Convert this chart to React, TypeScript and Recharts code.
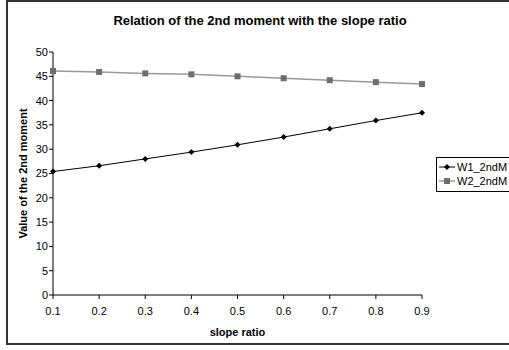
import React from 'react';
import { LineChart, Line, XAxis, YAxis, Legend, Label } from 'recharts';

const slopeRatios = [0.1, 0.2, 0.3, 0.4, 0.5, 0.6, 0.7, 0.8, 0.9];
const w1Values = [25.4, 26.6, 28.0, 29.4, 30.9, 32.5, 34.2, 35.9, 37.5];
const w2Values = [46.1, 45.9, 45.6, 45.4, 45.0, 44.6, 44.2, 43.8, 43.4];
const xTicks = [0.1, 0.2, 0.3, 0.4, 0.5, 0.6, 0.7, 0.8, 0.9];
const yTicks = [0, 5, 10, 15, 20, 25, 30, 35, 40, 45, 50];

const data = slopeRatios.map((x, i) => ({ x, W1_2ndM: w1Values[i], W2_2ndM: w2Values[i] }));

const FONT = '"Liberation Sans", Arial, sans-serif';

const Diamond = (props: any) => {
  const { cx, cy } = props;
  if (cx == null || cy == null) return null;
  const r = 3;
  return <polygon key={`d${cx}`} points={`${cx},${cy - r} ${cx + r},${cy} ${cx},${cy + r} ${cx - r},${cy}`} fill="#000" />;
};

const Square = (props: any) => {
  const { cx, cy } = props;
  if (cx == null || cy == null) return null;
  return <rect key={`s${cx}`} x={cx - 3} y={cy - 3} width={6} height={6} fill="#6e6e6e" />;
};

const LegendContent = () => (
  <div
    style={{
      border: '1px solid #000',
      width: 100,
      padding: '2px 0 3px 2px',
      fontFamily: FONT,
      fontSize: 11,
      background: '#fff',
      lineHeight: '14px',
      whiteSpace: 'nowrap',
    }}
  >
    <div style={{ display: 'flex', alignItems: 'center' }}>
      <svg width={16} height={10} style={{ marginRight: 2 }}>
        <line x1={0} y1={5} x2={16} y2={5} stroke="#000" strokeWidth={1} />
        <polygon points="8,2 11,5 8,8 5,5" fill="#000" />
      </svg>
      <span>W1_2ndM</span>
    </div>
    <div style={{ display: 'flex', alignItems: 'center' }}>
      <svg width={16} height={10} style={{ marginRight: 2 }}>
        <line x1={0} y1={5} x2={16} y2={5} stroke="#999" strokeWidth={1.5} />
        <rect x={5} y={2} width={6} height={6} fill="#6e6e6e" />
      </svg>
      <span>W2_2ndM</span>
    </div>
  </div>
);

export default function App() {
  return (
    <div style={{ position: 'absolute', left: 0, top: 0, width: 509, height: 350, background: '#fff', overflow: 'hidden' }}>
      <div
        style={{
          position: 'absolute',
          left: 6,
          top: 0,
          width: 520,
          height: 345,
          border: '2px solid #333',
          boxSizing: 'border-box',
        }}
      />
      <div
        style={{
          position: 'absolute',
          left: 0,
          width: 520,
          top: 13,
          textAlign: 'center',
          fontFamily: FONT,
          fontWeight: 'bold',
          fontSize: 13,
        }}
      >
        Relation of the 2nd moment with the slope ratio
      </div>
      <div style={{ position: 'absolute', left: 0, top: 0 }}>
        <LineChart width={509} height={350} data={data} margin={{ top: 52, right: 87, bottom: 25, left: 23 }}>
          <XAxis
            dataKey="x"
            type="number"
            domain={[0.1, 0.9]}
            ticks={xTicks}
            tickFormatter={(v: number) => v.toFixed(1)}
            axisLine={{ stroke: '#000' }}
            tickLine={{ stroke: '#000' }}
            tickSize={4}
            tickMargin={8}
            tick={{ fill: '#000', fontSize: 11, fontFamily: FONT }}
            height={30}
          >
            <Label
              value="slope ratio"
              position="bottom"
              offset={3}
              style={{ fontFamily: FONT, fontSize: 11, fontWeight: 'bold', fill: '#000' }}
            />
          </XAxis>
          <YAxis
            type="number"
            domain={[0, 50]}
            ticks={yTicks}
            interval={0}
            axisLine={{ stroke: '#000' }}
            tickLine={{ stroke: '#000' }}
            tickSize={4}
            tickMargin={1}
            tick={{ fill: '#000', fontSize: 11, fontFamily: FONT }}
            width={30}
          >
            <Label
              value="Value of the 2nd moment"
              angle={-90}
              position="insideLeft"
              offset={0}
              style={{ textAnchor: 'middle', fontFamily: FONT, fontSize: 11, fontWeight: 'bold', fill: '#000' }}
            />
          </YAxis>
          <Legend
            layout="vertical"
            align="center"
            verticalAlign="middle"
            content={LegendContent}
            wrapperStyle={{ left: 436, top: 157, width: 110, right: 'auto', bottom: 'auto' }}
          />
          <Line
            type="linear"
            dataKey="W1_2ndM"
            stroke="#000"
            strokeWidth={1}
            dot={Diamond}
            activeDot={false}
            isAnimationActive={false}
          />
          <Line
            type="linear"
            dataKey="W2_2ndM"
            stroke="#999"
            strokeWidth={1.5}
            dot={Square}
            activeDot={false}
            isAnimationActive={false}
          />
        </LineChart>
      </div>
    </div>
  );
}
